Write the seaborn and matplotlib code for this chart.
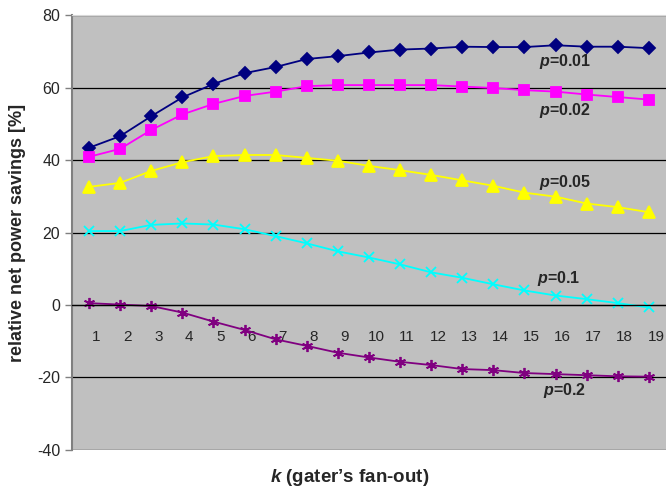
import numpy as np
import pandas as pd
import seaborn as sns
import matplotlib
matplotlib.use("Agg")
import matplotlib.pyplot as plt
import matplotlib.transforms as mtransforms

k_values = list(range(1, 20))
p_labels = ["0.01", "0.02", "0.05", "0.1", "0.2"]

sav_p001 = [43.4, 46.6, 52.1, 57.3, 61.0, 64.0, 65.7, 67.9, 68.7, 69.7,
            70.5, 70.8, 71.3, 71.2, 71.2, 71.7, 71.3, 71.3, 70.9]
sav_p002 = [40.9, 43.1, 48.3, 52.6, 55.5, 57.7, 58.9, 60.4, 60.7, 60.7,
            60.7, 60.7, 60.3, 59.9, 59.3, 58.9, 58.1, 57.4, 56.7]
sav_p005 = [32.6, 33.7, 37.0, 39.4, 41.1, 41.4, 41.4, 40.6, 39.8, 38.4,
            37.2, 35.9, 34.4, 32.9, 31.0, 29.9, 28.0, 27.0, 25.6]
sav_p01 = [20.4, 20.4, 22.1, 22.5, 22.2, 20.9, 19.0, 17.0, 14.8, 13.1,
           11.2, 9.0, 7.5, 5.7, 4.0, 2.6, 1.6, 0.5, -0.7]
sav_p02 = [0.5, 0.1, -0.3, -2.1, -4.6, -6.9, -9.5, -11.3, -13.2, -14.5,
           -15.7, -16.6, -17.7, -18.0, -18.8, -19.1, -19.4, -19.7, -19.8]

series = [sav_p001, sav_p002, sav_p005, sav_p01, sav_p02]
df = pd.concat([pd.DataFrame({"k": k_values, "savings": s, "p": p})
                for p, s in zip(p_labels, series)], ignore_index=True)

colors = {"0.01": "#000080", "0.02": "#FF00FF", "0.05": "#FFFF00",
          "0.1": "#00FFFF", "0.2": "#800080"}
markers = {"0.01": "D", "0.02": "s", "0.05": "^", "0.1": "x", "0.2": (6, 2, 0)}
msizes = {"0.01": 6, "0.02": 7, "0.05": 8, "0.1": 7, "0.2": 8}

sns.set_style("white")
plt.rcParams["font.family"] = ["Liberation Sans", "DejaVu Sans"]
plt.rcParams["axes.unicode_minus"] = False
plt.rcParams["mathtext.fontset"] = "custom"
plt.rcParams["mathtext.it"] = "Liberation Sans:italic:bold"
plt.rcParams["mathtext.rm"] = "Liberation Sans:bold"

fig = plt.figure(figsize=(6.66, 4.9), dpi=100)
ax = fig.add_axes([0.108, 0.082, 0.892, 0.887])
ax.set_facecolor("#C0C0C0")

for p in p_labels:
    sub = df[df["p"] == p]
    sns.lineplot(data=sub, x="k", y="savings", ax=ax, color=colors[p],
                 marker=markers[p], markersize=msizes[p], markeredgecolor=colors[p],
                 markeredgewidth=1.3, linewidth=1.3, legend=False)

ax.set_ylim(-40, 80)
ax.set_xlim(0.45, 19.55)
ax.set_yticks(range(-40, 81, 20))
ax.yaxis.grid(True, color="black", linewidth=0.9)
ax.set_axisbelow(True)

# category axis drawn at y=0
ax.spines["bottom"].set_position(("data", 0))
ax.spines["bottom"].set_color("black")
ax.spines["bottom"].set_linewidth(0.9)
ax.spines["right"].set_visible(False)
ax.spines["top"].set_color("#D8D8D8")
ax.spines["left"].set_color("#808080")
ax.spines["left"].set_linewidth(1.5)
ax.set_xticks(k_values)
ax.set_xticks(np.arange(0.5, 20, 1), minor=True)
ax.tick_params(axis="x", which="major", length=0, pad=18, labelsize=11)
ax.tick_params(axis="x", which="minor", length=5, width=0.9, color="black", direction="out")
ax.tick_params(axis="y", length=5, width=1, color="#808080", labelsize=11.5, left=True)
offset = mtransforms.ScaledTranslation(7 / 100, 0, fig.dpi_scale_trans)
for lab in ax.get_xticklabels():
    lab.set_transform(lab.get_transform() + offset)

ax.set_xlabel("")
ax.set_ylabel("relative net power savings [%]", fontsize=13, fontweight="bold", labelpad=8)
fig.text(0.525, 0.025, "$k$ (gater\u2019s fan-out)", fontsize=13.5, fontweight="bold",
         ha="center", va="center")

label_pos = {"0.01": (16.3, 67.3), "0.02": (16.3, 53.8), "0.05": (16.3, 33.9),
             "0.1": (16.1, 7.2), "0.2": (16.3, -23.7)}
for p in p_labels:
    x, y = label_pos[p]
    ax.text(x, y, f"$p$=" + p, fontsize=11.5, fontweight="bold", ha="center", va="center")

fig.savefig("out.png", dpi=100)
